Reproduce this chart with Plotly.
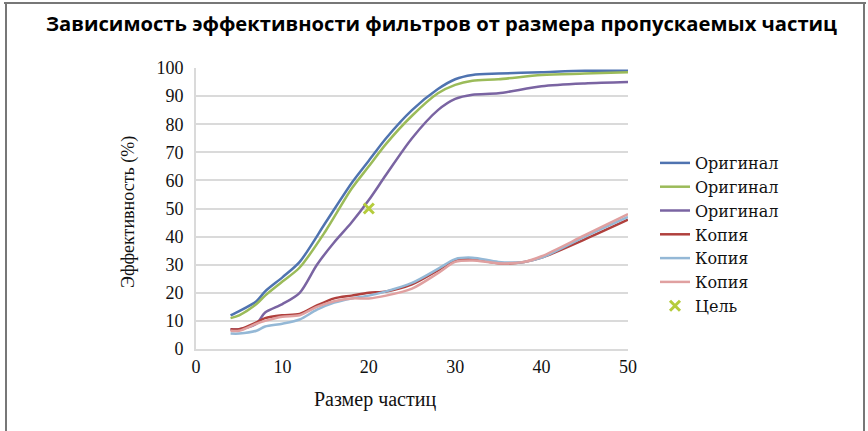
import plotly.graph_objects as go

x_blue = [4, 5, 7, 8, 10, 12, 15, 18, 20, 22, 25, 28, 30, 32, 35, 40, 45, 50]
y_blue = [12, 13.5, 17, 20.5, 25.5, 31, 45, 59, 67, 75, 85, 92.5, 96, 97.5, 98, 98.5, 99, 99]
x_green = [4, 5, 7, 8, 10, 12, 15, 18, 20, 22, 25, 28, 30, 32, 35, 40, 45, 50]
y_green = [11, 12, 16, 19, 24, 29, 42, 57, 65, 73, 83, 91, 94, 95.5, 96, 97.5, 98, 98.5]
x_purple = [4, 5, 7, 8, 10, 12, 14, 16, 18, 20, 22, 25, 28, 30, 32, 35, 40, 45, 50]
y_purple = [7, 7, 9, 13, 16, 20, 30, 38, 45, 53, 62, 75, 85, 89, 90.5, 91, 93.5, 94.5, 95]
x_red = [4, 5, 7, 8, 10, 12, 14, 16, 18, 20, 22, 25, 28, 30, 32, 35, 38, 40, 45, 50]
y_red = [7, 7, 9.5, 11, 12, 12.5, 15.5, 18, 19, 20, 20.5, 23, 28, 31.5, 32, 30.5, 31, 32.5, 39, 46]
x_lblue = [4, 5, 7, 8, 10, 12, 14, 16, 18, 20, 22, 25, 28, 30, 32, 35, 38, 40, 45, 50]
y_lblue = [5.5, 5.5, 6.5, 8, 9, 10.5, 14, 16.5, 18, 19, 20.5, 23.5, 28.5, 32, 32.5, 31, 31, 32.5, 40, 47]
x_pink = [4, 5, 7, 8, 10, 12, 14, 16, 18, 20, 22, 25, 28, 30, 32, 35, 38, 40, 45, 50]
y_pink = [6.5, 6.5, 9, 10, 11.5, 12, 15, 17, 18, 18, 19, 21.5, 27, 31, 31.5, 30.5, 31, 33, 40.5, 48]
x_target = [20]
y_target = [50]

names = ["Оригинал", "Оригинал", "Оригинал", "Копия", "Копия", "Копия"]
colors = ["#4f73b0", "#9bbb59", "#7a64a2", "#b0403d", "#94b8d6", "#e0a0a0"]
series = [(x_blue, y_blue), (x_green, y_green), (x_purple, y_purple),
          (x_red, y_red), (x_lblue, y_lblue), (x_pink, y_pink)]

fig = go.Figure()
for (xs, ys), n, c in zip(series, names, colors):
    fig.add_trace(go.Scatter(x=xs, y=ys, name=n, mode="lines",
                             line=dict(color=c, width=2.5, shape="spline", smoothing=0.8)))
fig.add_trace(go.Scatter(x=x_target, y=y_target, name="Цель", mode="markers",
                         marker=dict(symbol="x-thin", size=10, color="#b5cc3c",
                                     line=dict(width=3, color="#b5cc3c"))))

serif = "Liberation Serif, DejaVu Serif, serif"
fig.update_xaxes(range=[0, 50], dtick=10, showgrid=False, zeroline=False, ticks="",
                 tickfont=dict(family=serif, size=18, color="#111"),
                 showline=True, linecolor="#dadada", linewidth=2, automargin=False)
fig.update_yaxes(range=[0, 100], dtick=10, showgrid=True, gridcolor="#dadada", gridwidth=2,
                 zeroline=False, ticks="", tickfont=dict(family=serif, size=18, color="#111"),
                 ticklabelstandoff=7,
                 showline=True, linecolor="#dadada", linewidth=2, automargin=False)

L, R, T, B = 196, 628, 68, 349
W, H = R - L, B - T


def px(x):
    return (x - L) / W


def py(y):
    return (B - y) / H


fig.update_layout(
    width=868, height=431,
    margin=dict(l=L, r=868 - R, t=T, b=431 - B, autoexpand=False),
    paper_bgcolor="white", plot_bgcolor="white",
    showlegend=True,
    legend=dict(x=px(655), y=py(146), xanchor="left", yanchor="top",
                font=dict(family="DejaVu Serif, serif", size=16, color="#111"),
                tracegroupgap=0, itemwidth=30, bgcolor="rgba(0,0,0,0)"),
    title=dict(text="<b>Зависимость эффективности фильтров от размера пропускаемых частиц</b>",
               x=441.5 / 868, xanchor="center", xref="container",
               y=(431 - 24) / 431, yanchor="middle", yref="container",
               font=dict(family="Open Sans, Noto Sans, sans-serif", size=20.2, color="#000")),
    annotations=[
        dict(text="Размер частиц", xref="paper", yref="paper", x=px(375),
             y=py(399), showarrow=False, xanchor="center", yanchor="middle",
             font=dict(family=serif, size=20, color="#111")),
        dict(text="Эффективность (%)", xref="paper", yref="paper", x=px(128),
             y=py(212), showarrow=False, xanchor="center", yanchor="middle",
             textangle=-90, font=dict(family=serif, size=18, color="#111")),
    ],
    shapes=[
        dict(type="line", xref="paper", yref="paper", x0=px(4), x1=px(866),
             y0=py(3), y1=py(3), line=dict(color="#777", width=2)),
        dict(type="line", xref="paper", yref="paper", x0=px(6), x1=px(6),
             y0=py(3), y1=py(445), line=dict(color="#777", width=2)),
        dict(type="line", xref="paper", yref="paper", x0=px(864), x1=px(864),
             y0=py(3), y1=py(445), line=dict(color="#777", width=2)),
    ],
)

fig.write_html("out.html", config={"displayModeBar": False},
               post_script="document.body.style.margin='0';")
